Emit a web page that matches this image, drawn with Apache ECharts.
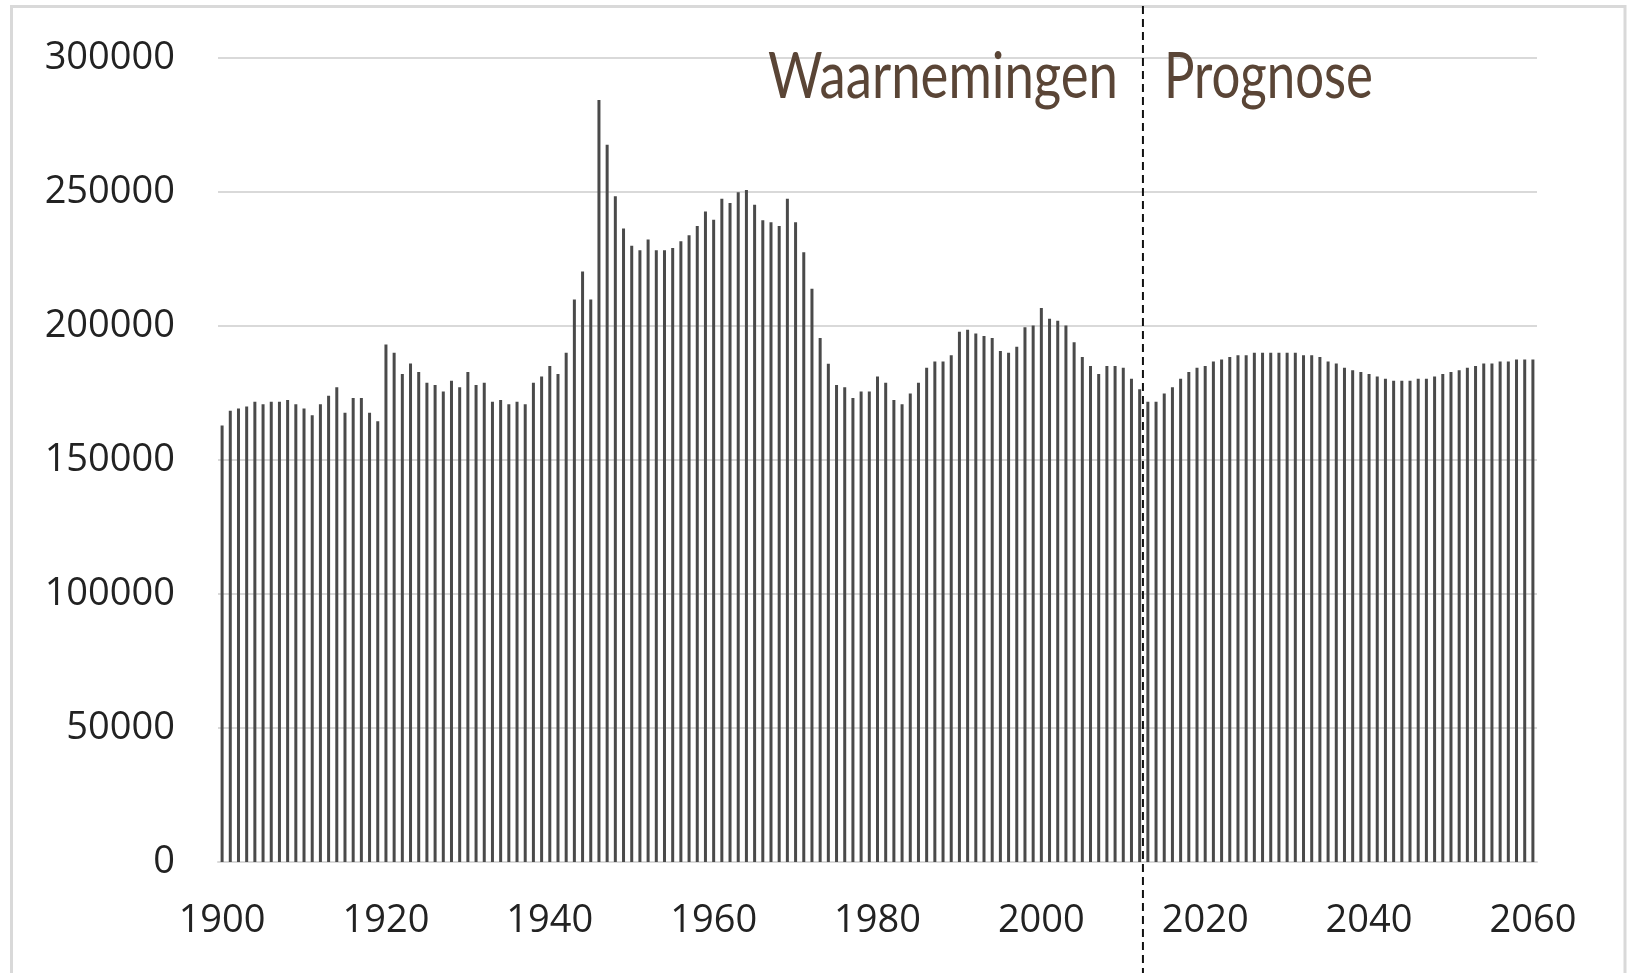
<!DOCTYPE html>
<html>
<head>
<meta charset="utf-8">
<title>Geboorten 1900-2060</title>
<script src="https://cdn.jsdelivr.net/npm/echarts@6/dist/echarts.min.js"></script>
<style>
  html, body { margin: 0; padding: 0; background: #fff; }
  #chart { width: 1627px; height: 973px; }
</style>
</head>
<body>
<div id="chart"></div>
<script>
// jaren 1900 t/m 2060
var firstYear = 1900
var lastYear = 2060
var years = []
for (var y = firstYear; y <= lastYear; y++) {
  years.push(String(y))
}

// waarnemingen 1900-2012
var observed = [
  162900, 168400, 169200, 170000, 171700, 170800, 171700, 171700, 172400, 170800,
  169200, 166700, 170800, 174000, 177100, 167600, 173100, 173100, 167600, 164500,
  193100, 190000, 182100, 186000, 182800, 178800, 178000, 175600, 179600, 177100,
  182800, 178000, 178800, 171700, 172400, 170800, 171700, 170800, 178800, 181200,
  185100, 182100, 190000, 209900, 220300, 209900, 284300, 267600, 248400, 236400,
  229900, 228300, 232300, 228300, 228300, 229100, 231600, 233900, 237300, 242700,
  239600, 247500, 245900, 249900, 250700, 245200, 239500, 238700, 237300, 247500,
  238700, 227500, 213900, 195500, 185900, 178000, 177100, 173100, 175600, 175600,
  181200, 178800, 172400, 170800, 174800, 178800, 184400, 186800, 186800, 189100,
  197900, 198600, 197200, 196300, 195500, 190700, 190000, 192300, 199500, 200200,
  206700, 202700, 202000, 200200, 193900, 188400, 185100, 182100, 185100, 185100,
  184400, 180300, 176400
]

// prognose 2013-2060
var forecast = [
  171700, 171700, 174800, 177100, 180300, 182800, 184400, 185100, 186800, 187500,
  188400, 189100, 189100, 190000, 190000, 190000, 190000, 190000, 190000, 189100,
  189100, 188400, 186800, 186000, 184400, 183500, 182800, 182100, 181200, 180300,
  179600, 179600, 179600, 180300, 180300, 181200, 182100, 182800, 183500, 184400,
  185100, 186000, 186000, 186800, 186800, 187500, 187500, 187500
]

var yTicks = [0, 50000, 100000, 150000, 200000, 250000, 300000]
var labelLeft = 'Waarnemingen'
var labelRight = 'Prognose'
var splitPos = 112.4   // grens tussen waarneming en prognose (categorie-index)

var chart = echarts.init(document.getElementById('chart'))

var axisFont = { fontFamily: 'Open Sans', fontSize: 38, color: '#222' }

var option = {
  animation: false,
  grid: { left: 218, right: 90, top: 58, bottom: 111 },
  xAxis: {
    type: 'category',
    data: years,
    boundaryGap: true,
    axisLine: { lineStyle: { color: '#d9d9d9', width: 2 } },
    axisTick: { show: false },
    axisLabel: Object.assign({ interval: 19, margin: 40 }, axisFont)
  },
  yAxis: {
    type: 'value',
    min: yTicks[0],
    max: yTicks[yTicks.length - 1],
    interval: yTicks[1] - yTicks[0],
    axisLine: { show: false },
    axisTick: { show: false },
    splitLine: { lineStyle: { color: '#d9d9d9', width: 2 } },
    axisLabel: Object.assign({ margin: 43, formatter: function (v) { return String(v) } }, axisFont)
  },
  series: [{
    type: 'bar',
    data: observed.concat(forecast),
    barWidth: 3,
    itemStyle: { color: '#4a4a4a' }
  }]
}
chart.setOption(option)

// tekst smaller maken zodat hij past op de breedte van het origineel
function fitScale(text, font, target) {
  var ctx = document.createElement('canvas').getContext('2d')
  ctx.font = font
  return target / ctx.measureText(text).width
}

var titleFont = '64px Lato'
var p0 = chart.convertToPixel({ xAxisIndex: 0 }, 112)
var p1 = chart.convertToPixel({ xAxisIndex: 0 }, 113)
var lineX = p0 + (splitPos - 112) * (p1 - p0)

chart.setOption({
  graphic: [
    {
      type: 'rect',
      shape: { x: 11.5, y: 6.5, width: 1613.5, height: 1000 },
      style: { fill: 'none', stroke: '#d9d9d9', lineWidth: 3 },
      silent: true
    },
    {
      type: 'line',
      shape: { x1: lineX, y1: 6, x2: lineX, y2: 973 },
      style: { stroke: '#111', lineWidth: 2, lineDash: [8, 5] },
      z: 10
    },
    {
      type: 'text',
      x: 768, y: 77,
      scaleX: fitScale(labelLeft, titleFont, 350),
      style: { text: labelLeft, font: titleFont, fill: '#5a4536', align: 'left', verticalAlign: 'middle' }
    },
    {
      type: 'text',
      x: 1164, y: 77,
      scaleX: fitScale(labelRight, titleFont, 209),
      style: { text: labelRight, font: titleFont, fill: '#5a4536', align: 'left', verticalAlign: 'middle' }
    }
  ]
})
</script>
</body>
</html>
